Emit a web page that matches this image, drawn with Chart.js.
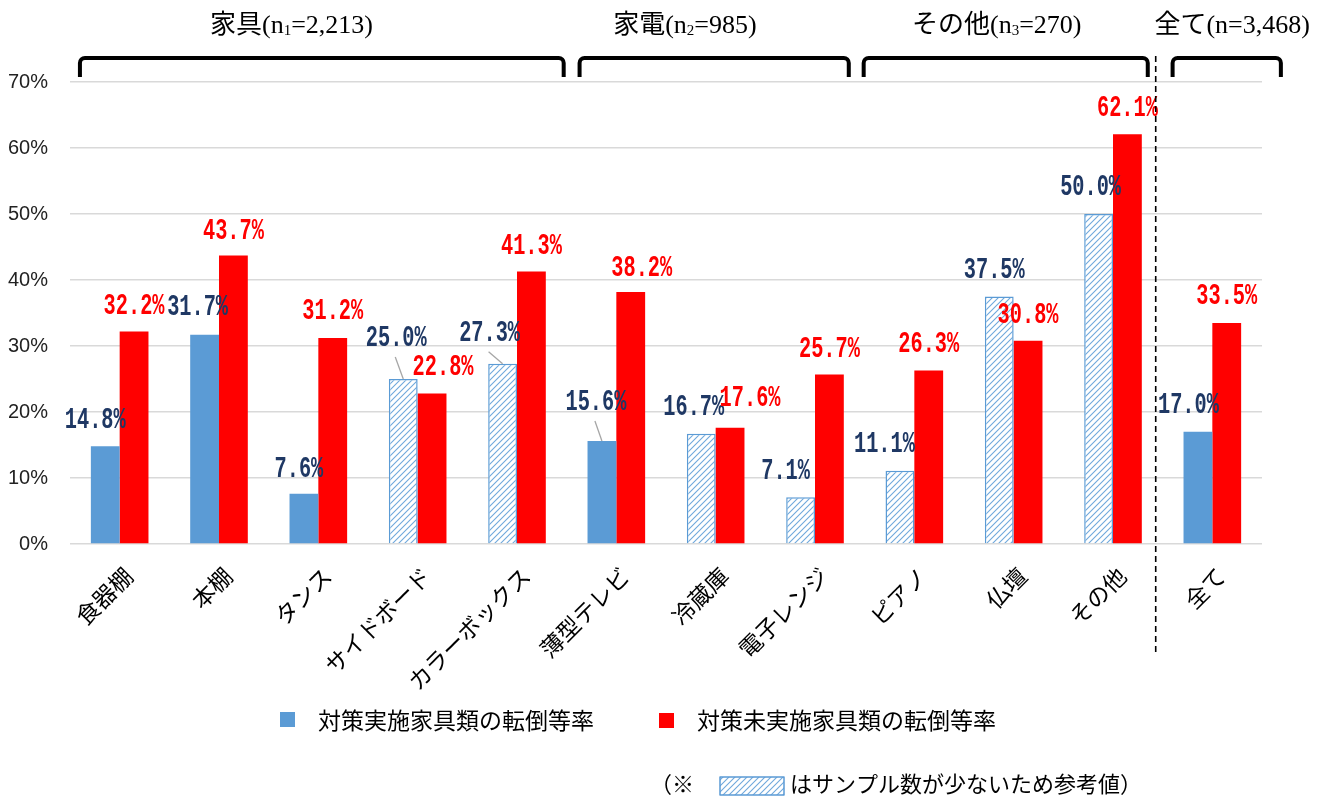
<!DOCTYPE html>
<html>
<head>
<meta charset="utf-8">
<script src="https://cdn.jsdelivr.net/npm/chart.js@4.4.0/dist/chart.umd.min.js"></script>
<style>
  html, body { margin: 0; padding: 0; background: #fff; }
  #wrap { width: 1329px; height: 798px; position: relative; }
</style>
</head>
<body>
<div id="wrap"><canvas id="chart"></canvas></div>
<script>
// data
const categories = ['食器棚', '本棚', 'タンス', 'サイドボード', 'カラーボックス', '薄型テレビ', '冷蔵庫', '電子レンジ', 'ピアノ', '仏壇', 'その他', '全て'];
const doneRates = [14.8, 31.7, 7.6, 25.0, 27.3, 15.6, 16.7, 7.1, 11.1, 37.5, 50.0, 17.0];
const notDoneRates = [32.2, 43.7, 31.2, 22.8, 41.3, 38.2, 17.6, 25.7, 26.3, 30.8, 62.1, 33.5];
const smallSample = [false, false, false, true, true, false, true, true, true, true, true, false];
const yTicks = [0, 10, 20, 30, 40, 50, 60, 70];
const seriesNames = ['対策実施家具類の転倒等率', '対策未実施家具類の転倒等率'];
const groupNames = ['家具', '家電', 'その他', '全て'];
const groupSub = ['1', '2', '3', ''];
const groupN = ['2,213', '985', '270', '3,468'];
const noteText = ['（※', 'はサンプル数が少ないため参考値）'];

const BLUE = '#5B9BD5';
const RED = '#FF0000';
const NAVY = '#1F3864';

// hatch for the small-sample bars
function makeHatch() {
  const t = document.createElement('canvas');
  t.width = 6; t.height = 6;
  const g = t.getContext('2d');
  g.fillStyle = '#fff'; g.fillRect(0, 0, 6, 6);
  g.strokeStyle = '#6FA8DC'; g.lineWidth = 1.1;
  g.beginPath();
  g.moveTo(0, 6); g.lineTo(6, 0);
  g.moveTo(-1, 1); g.lineTo(1, -1);
  g.moveTo(5, 7); g.lineTo(7, 5);
  g.stroke();
  return document.getElementById('chart').getContext('2d').createPattern(t, 'repeat');
}
const hatch = makeHatch();

// label nudges (px) so the value labels sit where the original put them
const doneDx = [-10, -7, -5, -7, -13, -6, -7.5, -15, -15.5, -5, -8, -9.5];
const doneDy = [-27, -28, -25, -41, -31, -39, -27, -26, -27, -26.5, -27, -27];
const notDx = [0, 0, 0, 11, 0, 11, 20, 0, 0, 0, 0, 0];
const notDy = [-26, -25, -27, -26.5, -26, -24.5, -30, -26, -27, -26, -26.5, -27];
const leaders = [3, 4, 5];

function valueText(ctx, txt, x, y, color) {
  ctx.save();
  ctx.translate(x, y);
  ctx.scale(0.7, 1);
  ctx.font = 'bold 29px "Liberation Mono", "DejaVu Sans Mono", monospace';
  ctx.fillStyle = color;
  ctx.textAlign = 'center';
  ctx.textBaseline = 'middle';
  ctx.fillText(txt, 0, 1);
  ctx.restore();
}

function hatchBox(ctx, x, y, w, h) {
  ctx.save();
  ctx.fillStyle = hatch;
  ctx.fillRect(x, y, w, h);
  ctx.strokeStyle = BLUE; ctx.lineWidth = 1.5;
  ctx.strokeRect(x, y, w, h);
  ctx.restore();
}

const extras = {
  id: 'extras',
  afterDatasetsDraw(chart) {
    const ctx = chart.ctx;
    const xs = chart.scales.x;

    // value labels
    [[0, doneRates, doneDx, doneDy, NAVY], [1, notDoneRates, notDx, notDy, RED]].forEach(([di, vals, dxs, dys, col]) => {
      chart.getDatasetMeta(di).data.forEach((bar, i) => {
        const lx = bar.x + dxs[i], ly = bar.y + dys[i];
        if (di === 0 && leaders.includes(i)) {
          ctx.save();
          ctx.strokeStyle = '#A6A6A6'; ctx.lineWidth = 1.3;
          ctx.beginPath();
          ctx.moveTo(bar.x, bar.y);
          ctx.lineTo(lx - 1, ly + 19);
          ctx.stroke();
          ctx.restore();
        }
        valueText(ctx, vals[i].toFixed(1) + '%', lx, ly, col);
      });
    });

    // group brackets and captions
    const from = [-0.40, 4.63, 7.49, 10.60];
    const to = [4.47, 7.34, 10.35, 11.69];
    const textAt = [1.73, 5.69, 8.83, 11.20];
    ctx.save();
    ctx.strokeStyle = '#000'; ctx.lineWidth = 4; ctx.lineCap = 'butt'; ctx.lineJoin = 'round';
    groupNames.forEach((name, g) => {
      const x1 = xs.getPixelForValue(from[g]), x2 = xs.getPixelForValue(to[g]);
      const top = 58, bot = 77, r = 5;
      ctx.beginPath();
      ctx.moveTo(x1, bot);
      ctx.lineTo(x1, top + r);
      ctx.arcTo(x1, top, x1 + r, top, r);
      ctx.lineTo(x2 - r, top);
      ctx.arcTo(x2, top, x2, top + r, r);
      ctx.lineTo(x2, bot);
      ctx.stroke();

      const big = '26px "Liberation Serif", "Noto Sans CJK JP", serif';
      const small = '15px "Liberation Serif", "Noto Sans CJK JP", serif';
      const parts = [[name + '(n', big, 0], [groupSub[g], small, 5], ['=' + groupN[g] + ')', big, 0]];
      let w = 0;
      parts.forEach(p => { ctx.font = p[1]; w += ctx.measureText(p[0]).width; });
      let x = xs.getPixelForValue(textAt[g]) - w / 2;
      ctx.fillStyle = '#000'; ctx.textAlign = 'left'; ctx.textBaseline = 'middle';
      parts.forEach(p => {
        ctx.font = p[1];
        ctx.fillText(p[0], x, 26 + p[2]);
        x += ctx.measureText(p[0]).width;
      });
    });

    // dashed divider before 全て
    const dx = xs.getPixelForValue(10.43);
    ctx.lineWidth = 1.6; ctx.setLineDash([6, 4]);
    ctx.beginPath(); ctx.moveTo(dx, 56); ctx.lineTo(dx, 656); ctx.stroke();
    ctx.setLineDash([]);

    // legend
    ctx.font = '23px "Noto Sans CJK JP", sans-serif';
    ctx.textAlign = 'left'; ctx.textBaseline = 'middle';
    ctx.fillStyle = BLUE; ctx.fillRect(280, 712, 15, 15);
    ctx.fillStyle = '#000'; ctx.fillText(seriesNames[0], 318, 720);
    ctx.fillStyle = RED; ctx.fillRect(659, 713, 15, 15);
    ctx.fillStyle = '#000'; ctx.fillText(seriesNames[1], 697, 720);

    // footnote
    ctx.font = '22px "Liberation Serif", "Noto Sans CJK JP", serif';
    ctx.fillText(noteText[0], 650, 786);
    hatchBox(ctx, 720, 777, 64, 18);
    ctx.fillText(noteText[1], 790, 786);
    ctx.restore();
  }
};

new Chart(document.getElementById('chart'), {
  type: 'bar',
  data: {
    labels: categories,
    datasets: [
      {
        label: seriesNames[0],
        data: doneRates,
        backgroundColor: smallSample.map(s => s ? hatch : BLUE),
        borderColor: BLUE,
        borderWidth: smallSample.map(s => s ? 1.5 : 0),
        categoryPercentage: 0.58,
        barPercentage: 1.0
      },
      {
        label: seriesNames[1],
        data: notDoneRates,
        backgroundColor: RED,
        borderWidth: 0,
        categoryPercentage: 0.58,
        barPercentage: 1.0
      }
    ]
  },
  options: {
    responsive: true,
    maintainAspectRatio: false,
    animation: false,
    layout: { padding: { top: 82, right: 67, left: 0, bottom: 0 } },
    plugins: { legend: { display: false }, tooltip: { enabled: false } },
    scales: {
      x: {
        grid: { display: false },
        border: { display: false },
        ticks: {
          color: '#000',
          font: { family: '"Noto Sans CJK JP", sans-serif', size: 23 },
          maxRotation: 45, minRotation: 45,
          padding: 10,
          labelOffset: 9,
          autoSkip: false
        },
        afterFit: s => { s.height = 254; }
      },
      y: {
        min: 0, max: 70,
        afterBuildTicks: s => { s.ticks = yTicks.map(v => ({ value: v })); },
        grid: { color: '#D9D9D9', lineWidth: 1.6, drawTicks: false },
        border: { display: false },
        ticks: {
          color: '#222',
          font: { family: '"Liberation Sans", Arial, sans-serif', size: 20 },
          padding: 22,
          callback: v => v + '%'
        },
        afterFit: s => { s.width = 70; }
      }
    }
  },
  plugins: [extras]
});
</script>
</body>
</html>
